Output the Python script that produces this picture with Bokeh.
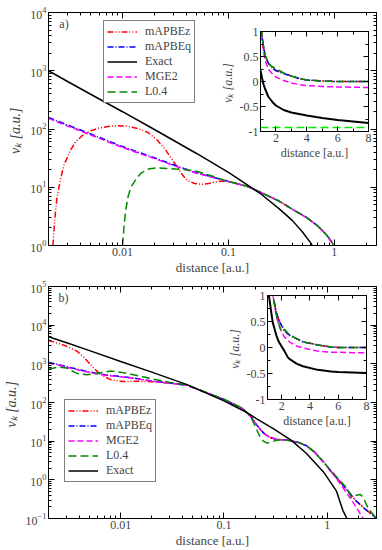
import numpy as np
from bokeh.plotting import figure
from bokeh.models import (FixedTicker, LogAxis, LinearAxis, CustomJSTickFormatter, Legend,
                          LegendItem, Label, GridBox, SingleIntervalTicker)
from bokeh.embed import file_html
from bokeh.resources import INLINE

FONT = "Liberation Serif"

# ---------------- Panel a) data ----------------
a_exact_r = [0.002, 0.003, 0.005, 0.01, 0.02, 0.05, 0.1, 0.2, 0.3, 0.4, 0.5, 0.6, 0.65]
a_exact_v = [1000, 660, 395, 198, 98, 38, 18, 7.8, 4.3, 2.7, 1.7, 1.1, 0.85]

a_mapbeq_r = [0.002, 0.003, 0.005, 0.01, 0.02, 0.034, 0.05, 0.07, 0.1, 0.15, 0.2, 0.3, 0.41, 0.55, 0.69, 0.85, 1.0]
a_mapbeq_v = [158, 118, 82, 50, 32, 22.5, 17.8, 15, 12.6, 10.4, 8.2, 5.8, 4.1, 3.0, 2.2, 1.5, 0.98]

a_mge2_r = [0.002, 0.003, 0.005, 0.01, 0.02, 0.034, 0.05, 0.07, 0.1, 0.15, 0.2, 0.3, 0.41, 0.55, 0.69, 0.85, 1.0]
a_mge2_v = [152, 113, 79, 48, 31, 22, 17.4, 14.8, 12.5, 10.4, 8.2, 5.8, 4.1, 3.0, 2.2, 1.5, 0.98]

a_mapbez_r = [0.0022, 0.0023, 0.0024, 0.0026, 0.0028, 0.0032, 0.0036, 0.0042, 0.005, 0.006, 0.0075,
              0.009, 0.011, 0.014, 0.0174, 0.021, 0.025, 0.029, 0.033, 0.037, 0.041, 0.048, 0.055,
              0.065, 0.075, 0.085, 0.1, 0.15, 0.2, 0.3, 0.41, 0.55, 0.69, 0.85, 1.0]
a_mapbez_v = [1.0, 3, 6.5, 14, 24, 42, 60, 78, 93, 104, 111, 114, 112, 102, 87, 66, 46, 31, 22, 16,
              13, 11.6, 11.2, 11.6, 12.3, 12.7, 12.6, 10.4, 8.2, 5.8, 4.1, 3.0, 2.2, 1.5, 0.98]

a_l04_r = [0.0100, 0.0103, 0.0107, 0.0113, 0.012, 0.0135, 0.015, 0.0175, 0.021, 0.026, 0.032, 0.04,
           0.05, 0.06, 0.075, 0.09, 0.1, 0.15, 0.2, 0.3, 0.41, 0.55, 0.69, 0.85, 1.0]
a_l04_v = [1.0, 2, 4, 7, 10, 14, 17.5, 20.5, 21.5, 21, 20.5, 20, 18.8, 17, 15, 13.3, 12.6, 10.4, 8.2,
           5.8, 4.1, 3.0, 2.2, 1.5, 0.98]

# inset a)
ia_x = [1.0, 1.1, 1.2, 1.3, 1.5, 1.8, 2.0, 2.5, 3.0, 3.5, 4.0, 5.0, 6.0, 7.0, 8.0]
ia_exact = [0.22, 0.07, -0.06, -0.15, -0.3, -0.42, -0.48, -0.57, -0.62, -0.65, -0.68, -0.73, -0.77, -0.80, -0.83]
ia_mge2 = [1.3, 0.85, 0.6, 0.42, 0.25, 0.14, 0.09, 0.02, -0.03, -0.06, -0.08, -0.1, -0.11, -0.115, -0.12]
ia_mapbeq = [1.3, 0.9, 0.68, 0.52, 0.37, 0.26, 0.22, 0.16, 0.11, 0.06, 0.03, 0.01, 0.0, 0.0, 0.0]
ia_mapbez = [1.3, 0.9, 0.68, 0.52, 0.37, 0.26, 0.22, 0.16, 0.11, 0.06, 0.03, 0.01, 0.0, 0.0, 0.0]
ia_l04 = [1.3, 0.92, 0.7, 0.53, 0.36, 0.29, 0.26, 0.17, 0.11, 0.06, 0.03, 0.01, 0.0, 0.0, 0.0]
ia_limit = [-0.92] * len(ia_x)

# ---------------- Panel b) data ----------------
b_exact_r = [0.002, 0.003, 0.005, 0.01, 0.02, 0.044, 0.1, 0.167, 0.21, 0.3, 0.45, 0.63, 0.92, 1.23, 1.42, 1.55]
b_exact_v = [5000, 3500, 2200, 1150, 610, 290, 110, 55, 37, 21, 10.5, 4.8, 1.6, 0.51, 0.16, 0.1]

b_tail_r = [0.18, 0.2, 0.225, 0.25, 0.28, 0.32, 0.38, 0.44, 0.53, 0.63, 0.75, 0.92, 1.1, 1.33, 1.6, 1.92, 2.3, 2.79, 3.0]

b_mapbeq_r = [0.002, 0.003, 0.0045, 0.007, 0.01, 0.0125, 0.02, 0.044, 0.08, 0.1, 0.15] + b_tail_r
b_mapbeq_v = [1100, 850, 650, 520, 470, 440, 360, 280, 150, 120, 70,
              45, 30, 20, 15, 12.5, 11.2, 10.8, 10.3, 9.2, 7.6, 5.3, 2.9, 1.6, 0.9, 0.5, 0.28, 0.18, 0.12, 0.1]

b_mge2_r = [0.002, 0.003, 0.0045, 0.007, 0.01, 0.0125, 0.02, 0.044, 0.08, 0.1, 0.15,
            0.18, 0.2, 0.225, 0.25, 0.28, 0.32, 0.38, 0.44, 0.53, 0.63, 0.75, 0.92, 1.1, 1.33, 1.6, 1.92, 2.23]
b_mge2_v = [1050, 820, 630, 510, 460, 430, 355, 280, 150, 120, 70,
            45, 30, 20, 15, 12.5, 11.2, 10.8, 10.3, 9.2, 7.6, 5.3, 2.9, 1.6, 0.8, 0.4, 0.19, 0.1]

b_mapbez_r = [0.002, 0.0025, 0.0031, 0.0038, 0.0045, 0.0052, 0.006, 0.007, 0.008, 0.0095, 0.011,
              0.014, 0.02, 0.026, 0.044, 0.08, 0.1, 0.15] + b_tail_r
b_mapbez_v = [4000, 3400, 2750, 2100, 1400, 900, 620, 460, 390, 355, 350, 355, 345, 330, 280, 150, 120, 70,
              45, 30, 20, 15, 12.5, 11.2, 10.8, 10.3, 9.2, 7.6, 5.3, 2.9, 1.6, 0.9, 0.5, 0.28, 0.18, 0.12, 0.1]

b_l04_r = [0.002, 0.0025, 0.003, 0.0038, 0.0047, 0.0058, 0.008, 0.01, 0.0126, 0.016, 0.021, 0.03, 0.044,
           0.08, 0.1, 0.15, 0.18, 0.2, 0.22, 0.24, 0.26, 0.28, 0.32, 0.38, 0.44, 0.53, 0.63, 0.75, 0.92,
           1.1, 1.33, 1.54, 1.72, 1.92, 2.1, 2.23, 2.5, 3.0]
b_l04_v = [730, 830, 780, 560, 520, 560, 650, 610, 540, 470, 400, 330, 285,
           152, 122, 72, 45, 25, 14, 10, 9, 9.3, 10.5, 10.8, 10.3, 9.2, 7.6, 5.3, 2.9,
           1.7, 0.95, 0.62, 0.35, 0.4, 0.42, 0.35, 0.18, 0.1]

# inset b)
ib_x = [1.0, 1.1, 1.28, 1.38, 1.63, 1.8, 2.0, 2.2, 2.44, 2.6, 3.05, 3.5, 4.55, 5.5, 6.0, 7.0, 8.0]
ib_exact = [1.6, 1.0, 0.65, 0.47, 0.23, 0.11, 0.02, -0.07, -0.19, -0.23, -0.31, -0.36, -0.43, -0.46, -0.47, -0.48, -0.49]
ib_mapbeq = [3.0, 2.2, 1.4, 1.0, 0.68, 0.53, 0.42, 0.33, 0.26, 0.23, 0.17, 0.11, 0.05, 0.01, 0.0, 0.0, 0.0]
ib_mapbez = [3.0, 2.2, 1.4, 1.0, 0.68, 0.53, 0.42, 0.33, 0.26, 0.23, 0.17, 0.11, 0.05, 0.01, 0.0, 0.0, 0.0]
ib_mge2 = [3.0, 2.2, 1.4, 1.0, 0.6, 0.42, 0.3, 0.2, 0.14, 0.1, 0.03, -0.01, -0.07, -0.09, -0.09, -0.1, -0.1]
ib_l04 = [3.0, 2.2, 1.4, 1.0, 0.62, 0.45, 0.3, 0.35, 0.28, 0.24, 0.17, 0.11, 0.05, 0.01, 0.0, 0.0, 0.0]

# ---------------- styles ----------------
STY = {
    "mAPBEz": dict(line_color="#ff0000", line_dash="6 2 1 2 1 2"),
    "mAPBEq": dict(line_color="#0000ff", line_dash="6 2 1 2"),
    "Exact": dict(line_color="#000000", line_dash="solid"),
    "MGE2": dict(line_color="#ff00ff", line_dash="6 3"),
    "L0.4": dict(line_color="#008800", line_dash="8 4"),
}


def log_ticker(lo, hi):
    major = [10.0 ** e for e in range(lo, hi + 1)]
    minor = [k * 10.0 ** e for e in range(lo - 1, hi + 1) for k in range(2, 10)]
    return FixedTicker(ticks=major, minor_ticks=minor)


def style_axis(ax, size="12px", tin=6, mtin=3):
    ax.major_tick_in = tin
    ax.major_tick_out = 0
    ax.minor_tick_in = mtin
    ax.minor_tick_out = 0
    ax.major_label_text_font = FONT
    ax.major_label_text_font_size = size
    ax.axis_label_text_font = FONT
    ax.axis_line_color = "black"
    ax.major_tick_line_color = "black"
    ax.minor_tick_line_color = "black"
    ax.major_label_standoff = 2


def main_panel(height, xr, yr, xt, yt, top_border, bottom_border):
    p = figure(width=382, height=height, x_axis_type="log", y_axis_type="log",
               x_range=xr, y_range=yr, output_backend="svg", toolbar_location=None,
               min_border_left=47, min_border_right=6, min_border_top=top_border,
               min_border_bottom=bottom_border, background_fill_color="white",
               border_fill_color="white", outline_line_color="black", outline_line_width=1)
    p.grid.visible = False
    p.xaxis.ticker = xt
    p.yaxis.ticker = yt
    p.xaxis.formatter = CustomJSTickFormatter(code="return tick.toString()")
    for ax in p.xaxis + p.yaxis:
        style_axis(ax)
    p.xaxis.axis_label = "distance [a.u.]"
    p.xaxis.axis_label_text_font_size = "13px"
    p.xaxis.axis_label_text_font_style = "normal"
    p.xaxis.axis_label_standoff = 1
    p.yaxis.axis_label = "v\u2096  [a.u.]"
    p.yaxis.axis_label_text_font_size = "14px"
    p.yaxis.axis_label_text_font_style = "italic"
    p.yaxis.axis_label_standoff = 4
    blank = CustomJSTickFormatter(code="return ''")
    top = LogAxis(ticker=xt, formatter=blank)
    right = LogAxis(ticker=yt, formatter=blank)
    style_axis(top)
    style_axis(right)
    top.major_label_standoff = 0
    right.major_label_standoff = 0
    p.add_layout(top, "above")
    p.add_layout(right, "right")
    return p


def inset_panel(width, height, margin):
    q = figure(width=width, height=height, x_range=(1, 8), y_range=(-1, 1),
               output_backend="svg", toolbar_location=None,
               min_border_left=38, min_border_right=4, min_border_top=8, min_border_bottom=26,
               background_fill_color="white", border_fill_color=None, border_fill_alpha=0,
               outline_line_color="black", outline_line_width=1)
    q.margin = margin
    q.grid.visible = False
    xt = SingleIntervalTicker(interval=2, num_minor_ticks=2)
    yt = SingleIntervalTicker(interval=0.5, num_minor_ticks=2)
    q.xaxis.ticker = xt
    q.yaxis.ticker = yt
    fmt = CustomJSTickFormatter(code="return tick.toString()")
    q.xaxis.formatter = fmt
    q.yaxis.formatter = fmt
    for ax in q.xaxis + q.yaxis:
        style_axis(ax, size="12px", tin=5, mtin=3)
    q.xaxis.axis_label = "distance [a.u.]"
    q.xaxis.axis_label_text_font_size = "12px"
    q.xaxis.axis_label_text_font_style = "normal"
    q.xaxis.axis_label_standoff = 1
    q.yaxis.axis_label = "v\u2096  [a.u.]"
    q.yaxis.axis_label_text_font_size = "12px"
    q.yaxis.axis_label_text_font_style = "italic"
    q.yaxis.axis_label_standoff = 2
    blank = CustomJSTickFormatter(code="return ''")
    top = LinearAxis(ticker=xt, formatter=blank)
    right = LinearAxis(ticker=yt, formatter=blank)
    style_axis(top, tin=5)
    style_axis(right, tin=5)
    top.major_label_standoff = 0
    right.major_label_standoff = 0
    q.add_layout(top, "above")
    q.add_layout(right, "right")
    return q


def add_legend(p, renderers, names, loc):
    items = [LegendItem(label=n, renderers=[r]) for n, r in zip(names, renderers)]
    lg = Legend(items=items, location=loc, border_line_color="black", border_line_width=1,
                label_text_font=FONT, label_text_font_size="12px",
                glyph_width=30, glyph_height=9, label_height=9, spacing=0, padding=3, margin=0,
                label_standoff=8, background_fill_color="white", background_fill_alpha=1)
    p.add_layout(lg)


LW = 1.5

# ---------- panel a ----------
pa = main_panel(277, (0.002, 2.5), (1, 1e4), log_ticker(-2, 0), log_ticker(0, 4), 12, 29)
ra = {}
ra["mAPBEz"] = pa.line(a_mapbez_r, a_mapbez_v, line_width=LW, **STY["mAPBEz"])
ra["mAPBEq"] = pa.line(a_mapbeq_r, a_mapbeq_v, line_width=LW, **STY["mAPBEq"])
ra["MGE2"] = pa.line(a_mge2_r, a_mge2_v, line_width=LW, **STY["MGE2"])
ra["L0.4"] = pa.line(a_l04_r, a_l04_v, line_width=LW, **STY["L0.4"])
ra["Exact"] = pa.line(a_exact_r, a_exact_v, line_width=LW, **STY["Exact"])
names_a = ["mAPBEz", "mAPBEq", "Exact", "MGE2", "L0.4"]
add_legend(pa, [ra[n] for n in names_a], names_a, (55, 142))
pa.add_layout(Label(x=0.0028, y=6300, text="a)", text_font=FONT, text_font_size="12px",
                    text_align="center", text_baseline="middle"))

ia = inset_panel(162, 144, (19, 0, 0, 212))
ia.line(ia_x, ia_limit, line_color="#00ee00", line_dash="8 4", line_width=LW)
ia.line(ia_x, ia_exact, line_color="black", line_width=2)
ia.line(ia_x, ia_mge2, line_width=LW, **STY["MGE2"])
ia.line(ia_x, ia_mapbez, line_width=LW, **STY["mAPBEz"])
ia.line(ia_x, ia_mapbeq, line_width=LW, **STY["mAPBEq"])
ia.line(ia_x, ia_l04, line_width=LW, **STY["L0.4"])

# ---------- panel b ----------
pb = main_panel(273, (0.002, 3.0), (0.1, 1e5), log_ticker(-2, 0), log_ticker(-1, 5), 9, 29)
rb = {}
rb["mAPBEz"] = pb.line(b_mapbez_r, b_mapbez_v, line_width=LW, **STY["mAPBEz"])
rb["mAPBEq"] = pb.line(b_mapbeq_r, b_mapbeq_v, line_width=LW, **STY["mAPBEq"])
rb["MGE2"] = pb.line(b_mge2_r, b_mge2_v, line_width=LW, **STY["MGE2"])
rb["L0.4"] = pb.line(b_l04_r, b_l04_v, line_width=LW, **STY["L0.4"])
rb["Exact"] = pb.line(b_exact_r, b_exact_v, line_width=LW, **STY["Exact"])
names_b = ["mAPBEz", "mAPBEq", "MGE2", "L0.4", "Exact"]
add_legend(pb, [rb[n] for n in names_b], names_b, (16, 36))
pb.add_layout(Label(x=0.0028, y=50000, text="b)", text_font=FONT, text_font_size="12px",
                    text_align="center", text_baseline="middle"))

ib = inset_panel(153, 145, (9, 0, 0, 219))
ib.line(ib_x, ib_exact, line_color="black", line_width=2)
ib.line(ib_x, ib_mge2, line_width=LW, **STY["MGE2"])
ib.line(ib_x, ib_mapbez, line_width=LW, **STY["mAPBEz"])
ib.line(ib_x, ib_mapbeq, line_width=LW, **STY["mAPBEq"])
ib.line(ib_x, ib_l04, line_width=LW, **STY["L0.4"])

layout = GridBox(children=[(pa, 0, 0), (ia, 0, 0), (pb, 1, 0), (ib, 1, 0)], spacing=0)

open("out.html", "w").write(file_html(layout, INLINE))
